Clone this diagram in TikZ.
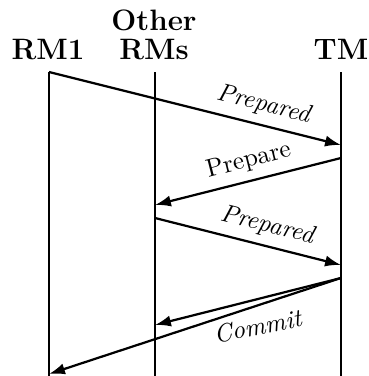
\documentclass[tikz,border=0pt]{standalone}
\usepackage{tikz}
\usetikzlibrary{arrows.meta}

\begin{document}
\begin{tikzpicture}[x=0.015cm, y=-0.015cm,%
  head/.style={anchor=base, font=\fontsize{12.6pt}{15pt}\selectfont\bfseries, inner sep=0pt},%
  lane/.style={line width=0.95pt},%
  msg/.style={line width=0.95pt, -{Latex[length=6.8pt, width=4.8pt]}},%
  lbl/.style={inner sep=3.3pt, font=\fontsize{10.8pt}{13pt}\selectfont}]%
\useasboundingbox (0,0) rectangle (369,376);%
% headers
\node[head] (rm1) at (48, 59) {RM1};%
\node[head] (other) at (154, 30) {Other};%
\node[head] (rms) at (154, 59) {RMs};%
\node[head] (tm) at (341, 59) {TM};%
% lanes
\coordinate (rm1top) at (49, 72);%
\coordinate (rm1bot) at (49, 376);%
\coordinate (rmstop) at (155, 72);%
\coordinate (rmsbot) at (155, 376);%
\coordinate (tmtop) at (341, 72);%
\coordinate (tmbot) at (341, 376);%
\draw[lane] (rm1top) -- (rm1bot);%
\draw[lane] (rmstop) -- (rmsbot);%
\draw[lane] (tmtop) -- (tmbot);%
% message points
\coordinate (tma) at (341, 145);%
\coordinate (tmb) at (341, 158);%
\coordinate (rmsa) at (155, 205);%
\coordinate (rmsb) at (155, 218);%
\coordinate (tmc) at (341, 265);%
\coordinate (tmd) at (341, 278);%
\coordinate (rmsc) at (155, 325);%
\coordinate (rm1a) at (49, 374);%
% messages
\draw[msg] (rm1top) -- node[lbl, sloped, above, pos=0.72] {\textit{Prepared}} (tma);%
\draw[msg] (tmb) -- node[lbl, sloped, above, pos=0.47] {Prepare} (rmsa);%
\draw[msg] (rmsb) -- node[lbl, sloped, above, pos=0.58] {\textit{Prepared}} (tmc);%
\draw[msg] (tmd) -- (rmsc);%
\draw[msg] (tmd) -- (rm1a);%
\node[lbl, rotate=11] (commit) at (258, 326) {\textit{Commit}};%
\end{tikzpicture}
\end{document}
